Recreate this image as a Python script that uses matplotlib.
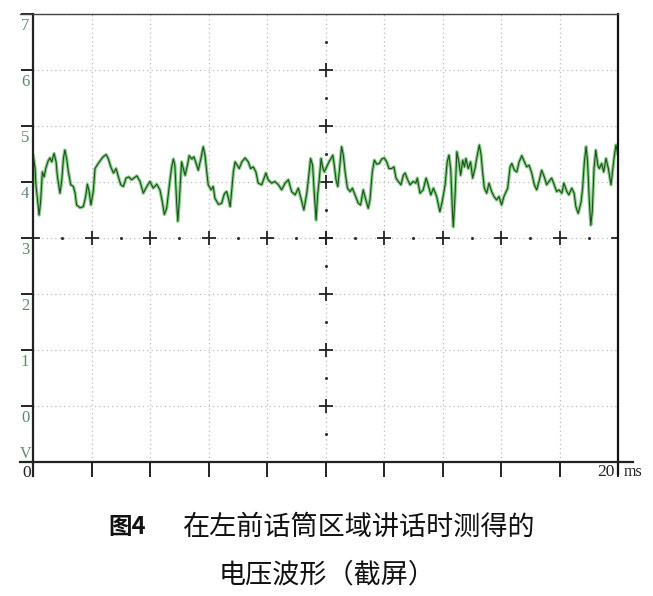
import numpy as np
import matplotlib.pyplot as plt

plt.rcParams['font.family'] = ['Noto Sans CJK SC', 'DejaVu Sans']

# waveform (time in ms, voltage in V)
t_ms = [0.01, 0.07, 0.10, 0.15, 0.21, 0.26, 0.32, 0.38, 0.44, 0.52, 0.58, 0.64, 0.72, 0.79, 0.83,
        0.92, 0.98, 1.04, 1.09, 1.15, 1.21, 1.29, 1.38, 1.44, 1.49, 1.61, 1.72, 1.80, 1.86, 1.92,
        1.98, 2.06, 2.12, 2.23, 2.31, 2.40, 2.50, 2.57, 2.66, 2.75, 2.84, 2.92, 3.00, 3.09, 3.18,
        3.28, 3.37, 3.55, 3.66, 3.77, 3.89, 4.00, 4.11, 4.23, 4.34, 4.42, 4.49, 4.57, 4.65, 4.74,
        4.80, 4.85, 4.91, 4.95, 5.00, 5.08, 5.14, 5.20, 5.28, 5.34, 5.43, 5.50, 5.56, 5.65, 5.74,
        5.82, 5.88, 5.94, 5.99, 6.09, 6.16, 6.22, 6.34, 6.45, 6.53, 6.56, 6.62, 6.68, 6.74, 6.79,
        6.85, 6.91, 6.98, 7.05, 7.14, 7.25, 7.36, 7.44, 7.53, 7.62, 7.70, 7.82, 7.96, 8.04, 8.16,
        8.27, 8.39, 8.50, 8.62, 8.73, 8.84, 8.96, 9.07, 9.19, 9.26, 9.36, 9.43, 9.49, 9.56, 9.62,
        9.68, 9.73, 9.78, 9.85, 9.90, 9.96, 10.04, 10.12, 10.19, 10.25, 10.30, 10.36, 10.42, 10.47,
        10.55, 10.61, 10.67, 10.75, 10.84, 10.92, 11.01, 11.12, 11.20, 11.29, 11.38, 11.46, 11.52,
        11.60, 11.67, 11.75, 11.84, 11.92, 12.01, 12.09, 12.17, 12.26, 12.34, 12.41, 12.49, 12.58,
        12.66, 12.72, 12.81, 12.89, 13.00, 13.09, 13.14, 13.23, 13.34, 13.44, 13.51, 13.60, 13.69,
        13.80, 13.91, 13.99, 14.09, 14.16, 14.22, 14.28, 14.34, 14.37, 14.43, 14.49, 14.56, 14.62,
        14.69, 14.75, 14.80, 14.88, 14.96, 15.03, 15.11, 15.19, 15.26, 15.32, 15.37, 15.43, 15.51,
        15.59, 15.68, 15.76, 15.85, 15.93, 16.02, 16.10, 16.23, 16.31, 16.37, 16.46, 16.54, 16.62,
        16.71, 16.80, 16.88, 16.96, 17.05, 17.14, 17.22, 17.30, 17.39, 17.48, 17.56, 17.64, 17.73,
        17.82, 17.90, 17.98, 18.08, 18.15, 18.25, 18.32, 18.42, 18.50, 18.56, 18.64, 18.74, 18.79,
        18.85, 18.91, 18.96, 19.02, 19.07, 19.12, 19.18, 19.24, 19.31, 19.36, 19.44, 19.51, 19.59,
        19.67, 19.76, 19.81, 19.87, 19.93, 19.99]
volts = [4.47, 4.25, 3.95, 3.71, 3.41, 3.65, 4.18, 4.09, 4.25, 4.38, 4.43, 4.36, 4.51, 4.36, 4.12,
         3.80, 4.01, 4.42, 4.57, 4.42, 4.18, 3.95, 3.92, 3.80, 3.59, 3.54, 3.56, 3.74, 3.96, 3.83,
         3.59, 3.83, 4.24, 4.33, 4.39, 4.45, 4.49, 4.42, 4.27, 4.16, 4.24, 4.09, 3.95, 3.92, 4.07,
         4.09, 4.04, 4.11, 4.01, 3.80, 3.92, 4.01, 3.89, 3.96, 3.86, 3.65, 3.42, 3.53, 3.89, 4.27,
         4.41, 4.30, 3.65, 3.30, 3.65, 4.36, 4.24, 4.12, 4.30, 4.47, 4.41, 4.45, 4.36, 4.21, 4.42,
         4.63, 4.48, 4.18, 3.95, 3.86, 3.92, 3.71, 3.60, 3.62, 3.77, 3.80, 3.83, 3.71, 3.56, 3.83,
         4.18, 4.36, 4.30, 4.24, 4.36, 4.43, 4.36, 4.24, 4.27, 4.18, 3.98, 3.95, 4.16, 4.04, 3.98,
         4.01, 3.95, 3.86, 3.98, 4.04, 3.83, 3.77, 3.89, 3.65, 3.50, 3.80, 4.12, 4.42, 4.30, 3.77,
         3.32, 3.77, 4.01, 4.42, 4.27, 4.18, 4.27, 4.36, 4.42, 4.48, 4.30, 4.04, 3.92, 4.18,
         4.63, 4.48, 4.18, 3.89, 3.83, 3.89, 3.77, 3.62, 3.59, 3.86, 3.68, 3.53, 3.68,
         4.18, 4.39, 4.32, 4.33, 4.41, 4.43, 4.36, 4.24, 4.24, 4.27, 4.07, 4.01, 3.95,
         4.12, 4.16, 4.04, 3.95, 4.01, 3.98, 4.07, 3.80, 3.86, 4.07, 3.95, 3.77, 3.89,
         3.74, 3.47, 3.65, 3.95, 4.36, 4.48, 4.24, 3.47, 3.20, 3.77, 4.54, 4.36, 4.12,
         4.39, 4.27, 4.42, 4.24, 4.36, 4.07, 4.24, 4.48, 4.66, 4.48, 4.18, 3.89, 3.80,
         3.98, 3.83, 3.74, 3.68, 3.74, 3.59, 3.74, 3.89, 4.27, 4.33, 4.21, 4.18, 4.36,
         4.47, 4.36, 4.27, 4.30, 4.16, 3.95, 3.86, 4.01, 4.21, 4.09, 3.95, 4.01, 4.07,
         3.95, 3.83, 3.86, 3.80, 3.98, 3.83, 3.77, 3.89, 3.80, 3.56, 3.44, 3.65, 3.89,
         4.36, 4.63, 4.36, 3.65, 3.23, 3.47, 4.24, 4.57, 4.30, 4.24, 4.33, 4.18, 4.42,
         4.24, 3.95, 4.18, 4.45, 4.66, 4.51]

x_div = [0, 2, 4, 6, 8, 10, 12, 14, 16, 18, 20]
y_div = [-1, 0, 1, 2, 3, 4, 5, 6, 7]
y_labels = ['7', '6', '5', '4', '3', '2', '1', '0']

fig = plt.figure(figsize=(6.53, 5.96), dpi=100)
ax = fig.add_axes([33 / 653, 1 - 462 / 596, 585 / 653, 448 / 596])
ax.set_xlim(0, 20)
ax.set_ylim(-1, 7)
ax.set_xticks(x_div)
ax.set_yticks(y_div)
ax.set_xticklabels([])
ax.set_yticklabels([])
ax.tick_params(direction='out', length=9, width=1.4, color='#222222')
ax.tick_params(axis='x', length=11)
ax.grid(True, color='#bdbdbd', linestyle=(0, (1, 2.5)), linewidth=0.9)
for s in ['left', 'bottom']:
    ax.spines[s].set_linewidth(1.6)
    ax.spines[s].set_color('#222222')
ax.spines['top'].set_linewidth(1.0)
ax.spines['top'].set_color('#444444')
ax.spines['right'].set_linewidth(1.6)
ax.spines['right'].set_color('#111111')

# extended frame lines like the scope screen
ax.plot([-0.45, 0], [7, 7], color='#444444', lw=1.0, clip_on=False)
ax.plot([-0.45, 0], [-1, -1], color='#222222', lw=1.6, clip_on=False)
ax.plot([20, 20.5], [-1, -1], color='#222222', lw=1.6, clip_on=False)
ax.plot([0, 0], [-1, -1.25], color='#222222', lw=1.6, clip_on=False)
ax.plot([20, 20], [-1, -1.22], color='#111111', lw=1.6, clip_on=False)

# centre cross hair marks
ax.plot(x_div[1:-1], [3] * 9, '+', color='#222222', ms=10, mew=1.3)
ax.plot([1, 3, 5, 7, 9, 11, 13, 15, 17, 19], [3] * 10, '.', color='#333333', ms=2.5)
ax.plot([0, 0.2], [3, 3], color='#222222', lw=1.3)
ax.plot([19.8, 20], [3, 3], color='#222222', lw=1.3)
ax.plot([10] * 7, [0, 1, 2, 3, 4, 5, 6], '+', color='#222222', ms=10, mew=1.3)
ax.plot([10] * 8, [-0.5, 0.5, 1.5, 2.5, 3.5, 4.5, 5.5, 6.5], '.', color='#333333', ms=2.5)

# waveform: green glow with dark core
ax.plot(t_ms, volts, color='#6cc26c', lw=2.4, alpha=0.8)
ax.plot(t_ms, volts, color='#1c501c', lw=0.8)

for yv, lab in zip([7, 6, 5, 4, 3, 2, 1, 0], y_labels):
    ax.text(-0.27, yv - 0.21, lab, ha='center', va='center', fontsize=12,
            family='Liberation Serif', color='#5d8a6b', clip_on=False)
ax.text(-0.27, -0.86, 'V', ha='center', va='center', fontsize=11.5,
        family='Liberation Serif', color='#5d8a6b')
ax.text(-0.2, -1.2, '0', ha='center', va='center', fontsize=12.5,
        family='Liberation Serif', color='#222222')
ax.text(19.6, -1.18, '20', ha='center', va='center', fontsize=12.5,
        family='Liberation Serif', color='#222222')
ax.text(20.5, -1.18, 'ms', ha='center', va='center', fontsize=11.5,
        family='Liberation Serif', color='#222222')

fig.text(108 / 653, 1 - 527 / 596, '图4', ha='left', va='center', fontsize=17,
         fontweight='bold', color='#111111')
fig.text(183 / 653, 1 - 527 / 596, '在左前话筒区域讲话时测得的', ha='left', va='center',
         fontsize=19.5, color='#111111')
fig.text(327 / 653, 1 - 575 / 596, '电压波形（截屏）', ha='center', va='center',
         fontsize=19.5, color='#111111')

fig.savefig('out.png', dpi=100, facecolor='white')
